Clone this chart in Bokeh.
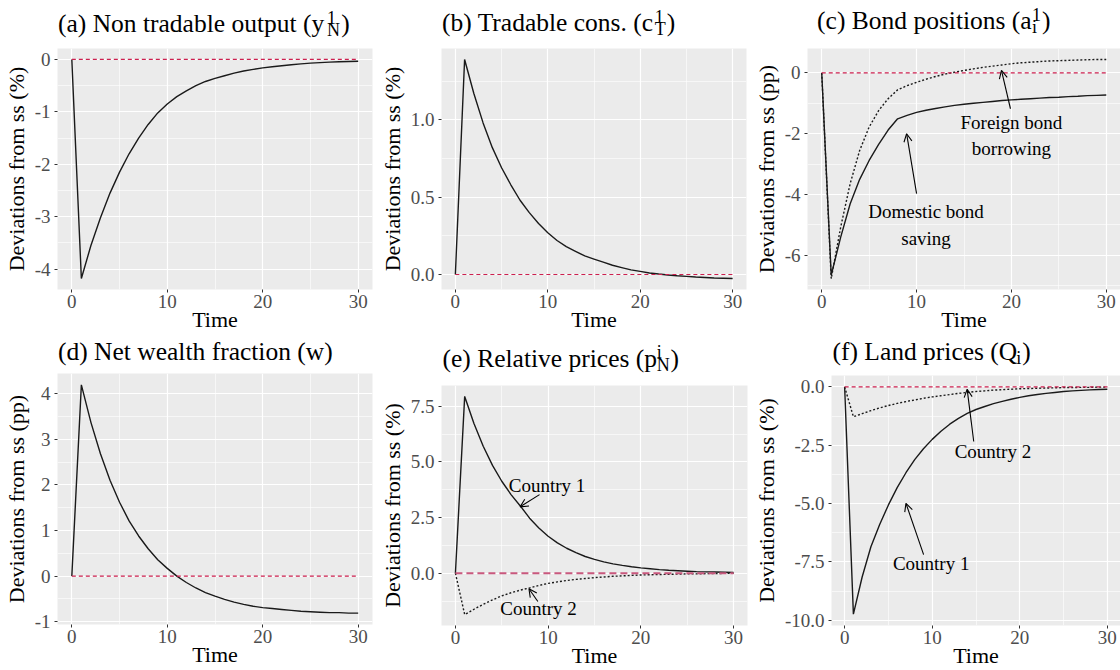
from bokeh.plotting import figure
from bokeh.layouts import column, row
from bokeh.models import Label, Arrow, OpenHead, FixedTicker, PrintfTickFormatter, Range1d
from bokeh.embed import file_html
from bokeh.resources import INLINE

# ---------------- data ----------------
time = list(range(31))
steady_state = [0.0] * 31

yN1 = [0, -4.18, -3.55, -3.02, -2.55, -2.15, -1.80, -1.50, -1.24, -1.02, -0.85,
       -0.71, -0.60, -0.50, -0.42, -0.36, -0.31, -0.26, -0.22, -0.19, -0.16,
       -0.14, -0.12, -0.10, -0.085, -0.07, -0.06, -0.05, -0.045, -0.04, -0.035]

cT1 = [0, 1.39, 1.17, 0.98, 0.82, 0.69, 0.58, 0.48, 0.40, 0.33, 0.27,
       0.22, 0.18, 0.15, 0.12, 0.10, 0.08, 0.06, 0.045, 0.03, 0.02,
       0.01, 0.003, -0.003, -0.008, -0.012, -0.016, -0.019, -0.022, -0.024, -0.026]

a_domestic = [0, -6.65, -5.40, -4.30, -3.50, -2.88, -2.35, -1.88, -1.51, -1.40, -1.30,
              -1.23, -1.17, -1.12, -1.07, -1.03, -1.00, -0.97, -0.94, -0.91, -0.89,
              -0.87, -0.85, -0.83, -0.81, -0.80, -0.78, -0.77, -0.75, -0.74, -0.73]

a_foreign = [0, -6.76, -5.07, -3.64, -2.55, -1.78, -1.24, -0.85, -0.56, -0.42, -0.31,
             -0.21, -0.12, -0.04, 0.02, 0.08, 0.13, 0.18, 0.22, 0.26, 0.30,
             0.33, 0.35, 0.37, 0.39, 0.40, 0.41, 0.42, 0.43, 0.44, 0.44]

w_frac = [0, 4.19, 3.37, 2.68, 2.10, 1.62, 1.21, 0.88, 0.60, 0.36, 0.17,
          0.0, -0.14, -0.26, -0.36, -0.44, -0.51, -0.57, -0.62, -0.66, -0.69,
          -0.71, -0.73, -0.75, -0.77, -0.78, -0.79, -0.80, -0.80, -0.81, -0.81]

pN_c1 = [0, 7.94, 6.72, 5.70, 4.84, 4.13, 3.53, 3.02, 2.47, 2.03, 1.66,
         1.36, 1.12, 0.92, 0.75, 0.62, 0.51, 0.42, 0.35, 0.29, 0.24,
         0.20, 0.16, 0.13, 0.11, 0.09, 0.07, 0.06, 0.05, 0.04, 0.03]

pN_c2 = [0, -1.86, -1.62, -1.40, -1.20, -1.02, -0.88, -0.76, -0.66, -0.55, -0.46,
         -0.39, -0.33, -0.28, -0.24, -0.20, -0.17, -0.14, -0.12, -0.10, -0.08,
         -0.07, -0.06, -0.05, -0.04, -0.03, -0.03, -0.02, -0.02, -0.01, -0.01]

Q_c1 = [0, -9.74, -8.15, -6.85, -5.90, -5.06, -4.32, -3.68, -3.12, -2.65, -2.25,
        -1.90, -1.60, -1.35, -1.14, -0.97, -0.84, -0.72, -0.62, -0.53, -0.45,
        -0.38, -0.33, -0.28, -0.24, -0.20, -0.17, -0.15, -0.13, -0.11, -0.10]

Q_c2 = [0, -1.28, -1.15, -1.02, -0.90, -0.80, -0.71, -0.63, -0.56, -0.49, -0.43,
        -0.38, -0.33, -0.28, -0.24, -0.20, -0.17, -0.14, -0.12, -0.10, -0.08,
        -0.07, -0.06, -0.05, -0.04, -0.03, -0.03, -0.02, -0.02, -0.01, -0.01]

x_ticks = [0, 10, 20, 30]
x_minor = [5, 15, 25]
ticks_a = [-4, -3, -2, -1, 0]
minor_a = [-3.5, -2.5, -1.5, -0.5]
ticks_b = [0.0, 0.5, 1.0]
minor_b = [0.25, 0.75, 1.25]
ticks_c = [-6, -4, -2, 0]
minor_c = [-7, -5, -3, -1]
ticks_d = [-1, 0, 1, 2, 3, 4]
minor_d = [-0.5, 0.5, 1.5, 2.5, 3.5]
ticks_e = [0.0, 2.5, 5.0, 7.5]
minor_e = [-1.25, 1.25, 3.75, 6.25]
ticks_f = [-10.0, -7.5, -5.0, -2.5, 0.0]
minor_f = [-8.75, -6.25, -3.75, -1.25]

FONT = "Liberation Serif"
LINE_COL = "#1A1A1A"
SS_COL = "#CC1F4E"

# Times / Liberation Serif advance widths (per 1000 em) for placing script pieces
TW = {" ": 250, "(": 333, ")": 333, ".": 250, "1": 500,
      "a": 444, "b": 500, "c": 444, "d": 500, "e": 444, "f": 333, "g": 500, "h": 500,
      "i": 278, "j": 278, "k": 500, "l": 278, "m": 778, "n": 500, "o": 500, "p": 500,
      "q": 500, "r": 333, "s": 389, "t": 278, "u": 500, "v": 500, "w": 722, "x": 500,
      "y": 500, "z": 444, "B": 667, "D": 722, "L": 611, "N": 722, "Q": 722, "R": 667,
      "T": 611}
MID = 0.3375    # distance baseline -> middle of text box, in em
WFAC = 1.01


def text_width(s, size):
    return sum(TW.get(ch, 500) for ch in s) * size / 1000.0 * WFAC


def put(t, x, base, txt, size):
    t.add_layout(Label(x=x, y=base - MID * size, text=txt, text_font=FONT,
                       text_font_size=f"{size}px", text_baseline="middle",
                       text_align="left", text_color="black"))


def make_title(W, th, mbl, mbr, title, tleft, tbase):
    t = figure(width=W, height=th, output_backend="svg", toolbar_location=None, title=None,
               x_range=Range1d(mbl, W - mbr), y_range=Range1d(th, 0),
               x_axis_location=None, y_axis_location=None,
               min_border_left=mbl, min_border_right=mbr, min_border_top=0, min_border_bottom=0)
    t.grid.visible = False
    t.outline_line_color = None
    t.background_fill_color = "white"
    t.border_fill_color = "white"
    main, sup, sub, close = title
    TS, SS = 25.5, 18
    put(t, tleft, tbase, main, TS)
    xs = tleft + text_width(main, TS) + 1.0
    wsc = 0
    if sup:
        put(t, xs, tbase - 8.5, sup, SS)
        wsc = max(wsc, text_width(sup, SS))
    if sub:
        put(t, xs, tbase + 4, sub, SS)
        wsc = max(wsc, text_width(sub, SS))
    if close:
        put(t, xs + wsc + 1.0, tbase, close, TS)
    return t


def make_panel(series, ylabel, ticks, minor, fmt, title, geom, notes=(), ss_style=None):
    W, H, mbl, mbr, th, mbb, tleft, tbase = geom
    allv = [v for s, _ in series for v in s] + steady_state
    lo, hi = min(allv), max(allv)
    span = hi - lo
    p = figure(width=W, height=H - th, output_backend="svg", toolbar_location=None, title=None,
               x_range=Range1d(-1.5, 31.5), y_range=Range1d(lo - 0.05 * span, hi + 0.05 * span),
               min_border_left=mbl, min_border_right=mbr, min_border_top=0,
               min_border_bottom=mbb)
    p.background_fill_color = "#EBEBEB"
    p.border_fill_color = "white"
    p.outline_line_color = None

    p.xaxis.ticker = FixedTicker(ticks=x_ticks, minor_ticks=x_minor)
    p.yaxis.ticker = FixedTicker(ticks=ticks, minor_ticks=minor)
    p.yaxis.formatter = PrintfTickFormatter(format=fmt)
    p.xaxis.formatter = PrintfTickFormatter(format="%d")
    p.xaxis.axis_label = "Time"
    p.yaxis.axis_label = ylabel
    for ax in p.axis:
        ax.axis_line_color = None
        ax.major_tick_line_color = "#333333"
        ax.major_tick_out = 3
        ax.major_tick_in = 0
        ax.minor_tick_line_color = None
        ax.major_label_text_font = FONT
        ax.major_label_text_font_size = "19px"
        ax.major_label_text_color = "#4D4D4D"
        ax.axis_label_text_font = FONT
        ax.axis_label_text_font_size = "22px"
        ax.axis_label_text_font_style = "normal"
        ax.axis_label_text_color = "black"
    p.xaxis.major_label_standoff = 1
    p.xaxis.axis_label_standoff = -4
    p.yaxis.major_label_standoff = 3
    p.yaxis.axis_label_standoff = 3

    p.grid.grid_line_color = "white"
    p.grid.grid_line_width = 1.2
    p.grid.minor_grid_line_color = "white"
    p.grid.minor_grid_line_width = 0.6

    for s, dash in series:
        p.line(time, s, line_color=LINE_COL, line_width=1.4, line_dash=dash)
    st = ss_style or dict(line_color=SS_COL, line_width=1.2, line_dash="4 3")
    p.line(time, steady_state, **st)

    for kind, args in notes:
        if kind == "text":
            x, y, txt = args
            p.add_layout(Label(x=x, y=y, text=txt, text_align="center", text_baseline="middle",
                               text_font=FONT, text_font_size="19px", text_color="black"))
        else:
            x0, y0, x1, y1 = args
            p.add_layout(Arrow(x_start=x0, y_start=y0, x_end=x1, y_end=y1, line_width=1.1,
                               line_color="black",
                               end=OpenHead(size=8, line_width=1.1, line_color="black")))

    t = make_title(W, th, mbl, mbr, title, tleft, tbase)
    return column(t, p, spacing=0)


pa = make_panel([(yN1, "solid")], "Deviations from ss (%)", ticks_a, minor_a, "%d",
                ("(a) Non tradable output (y", "1", "N", ")"),
                (376, 335, 56, 4, 48, 46, 56.5, 32))
pb = make_panel([(cT1, "solid")], "Deviations from ss (%)", ticks_b, minor_b, "%.1f",
                ("(b) Tradable cons. (c", "1", "T", ")"),
                (374, 335, 61, 4, 48, 46, 61.5, 31))
pc = make_panel([(a_domestic, "solid"), (a_foreign, "2 2")], "Deviations from ss (pp)",
                ticks_c, minor_c, "%d",
                ("(c) Bond positions (a", "1", "i", ")"),
                (370, 335, 53, 0, 48, 46, 62.7, 28.5),
                notes=[("text", (20.0, -1.62, "Foreign bond")),
                       ("text", (20.0, -2.49, "borrowing")),
                       ("arrow", (19.9, -1.18, 18.95, 0.08)),
                       ("text", (11.0, -4.57, "Domestic bond")),
                       ("text", (11.0, -5.45, "saving")),
                       ("arrow", (10.0, -3.97, 8.95, -2.0))])
pd_ = make_panel([(w_frac, "solid")], "Deviations from ss (pp)", ticks_d, minor_d, "%d",
                 ("(d) Net wealth fraction (w)", "", "", ""),
                 (376, 335, 56, 4, 38, 46, 56.5, 24.5))
pe = make_panel([(pN_c1, "solid"), (pN_c2, "2 2")], "Deviations from ss (%)",
                ticks_e, minor_e, "%.1f",
                ("(e) Relative prices (p", "i", "N", ")"),
                (374, 335, 60, 3, 50, 45, 61, 31.5),
                notes=[("text", (9.88, 3.95, "Country 1")),
                       ("arrow", (9.07, 3.53, 6.98, 2.98)),
                       ("text", (8.96, -1.59, "Country 2")),
                       ("arrow", (8.89, -1.27, 7.93, -0.70))],
                ss_style=dict(line_color="#C9587E", line_width=2.0, line_dash="7 4"))
pf = make_panel([(Q_c1, "solid"), (Q_c2, "2 2")], "Deviations from ss (%)",
                ticks_f, minor_f, "%.1f",
                ("(f) Land prices (Q", "", "i", ")"),
                (370, 335, 75, 0, 40, 45, 76, 25),
                notes=[("text", (16.93, -2.79, "Country 2")),
                       ("arrow", (14.74, -2.34, 13.99, -0.10)),
                       ("text", (9.88, -7.59, "Country 1")),
                       ("arrow", (9.02, -7.19, 7.0, -4.99))])

layout = column(row(pa, pb, pc, spacing=0), row(pd_, pe, pf, spacing=0), spacing=0)
open("out.html", "w").write(file_html(layout, INLINE))
